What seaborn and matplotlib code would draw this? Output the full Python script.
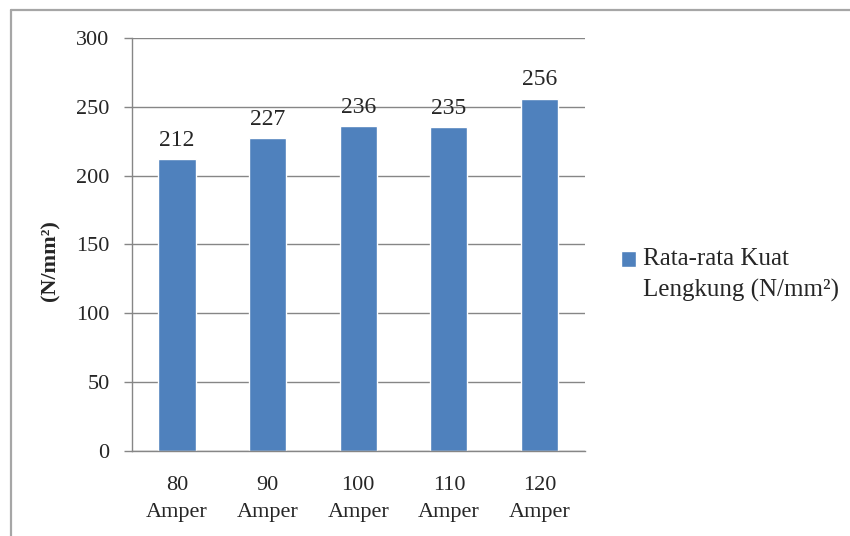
import matplotlib
matplotlib.use("Agg")
import matplotlib.pyplot as plt
from matplotlib.lines import Line2D
import seaborn as sns

# data
categories = ["80\nAmper", "90\nAmper", "100\nAmper", "110\nAmper", "120\nAmper"]
values = [212, 227, 236, 235, 256]
series_name = "Rata-rata Kuat\nLengkung (N/mm²)"
y_ticks = [0, 50, 100, 150, 200, 250, 300]

sns.set_theme(style="white")
plt.rcParams["font.family"] = ["Liberation Serif", "DejaVu Serif"]

bar_color = "#4F81BD"
grid_color = "#868686"

fig = plt.figure(figsize=(8.5, 5.36), dpi=100)
ax = fig.add_axes([0.155, 0.159, 0.533, 0.770])

sns.barplot(x=categories, y=values, color=bar_color, width=0.41,
            label=series_name, ax=ax, saturation=1)

ax.set_ylim(0, 300)
ax.set_yticks(y_ticks)
ax.set_xlim(-0.5, len(categories) - 0.5)
ax.yaxis.grid(True, color=grid_color, linewidth=1)
ax.set_axisbelow(True)

for side in ["top", "right"]:
    ax.spines[side].set_visible(False)
ax.spines["left"].set_color(grid_color)
ax.spines["bottom"].set_color(grid_color)
ax.spines["left"].set_linewidth(1)
ax.spines["bottom"].set_linewidth(1)

ax.tick_params(axis="y", length=6, color=grid_color, width=1, labelsize=16, pad=10, left=True)
ax.tick_params(axis="x", length=0, labelsize=16, pad=18)
for lab in ax.get_xticklabels():
    lab.set_linespacing(1.6)

for i, v in enumerate(values):
    ax.text(i, v + 6, str(v), ha="center", va="bottom", fontsize=17)

ax.set_ylabel("(N/mm²)", fontsize=16, fontweight="bold")
ax.yaxis.set_label_coords(-0.158, 0.462)

leg = ax.legend(loc="center left", bbox_to_anchor=(1.03, 0.426), frameon=False,
                fontsize=18, handlelength=0.6, handleheight=0.6, handletextpad=0.3,
                labelspacing=0.2)
for t in leg.get_texts():
    t.set_linespacing(1.5)
# Excel puts the legend square beside the first line of a wrapped label
for h in leg.legend_handles:
    h.set_y(h.get_y() + 11.5)

# outer gray border of the chart area (cut at right and bottom)
fig.add_artist(Line2D([0.013, 1.0], [0.981, 0.981], transform=fig.transFigure,
                      color="#A6A6A6", linewidth=1.6))
fig.add_artist(Line2D([0.013, 0.013], [0.981, 0.0], transform=fig.transFigure,
                      color="#A6A6A6", linewidth=1.6))

fig.savefig("out.png", dpi=100)
